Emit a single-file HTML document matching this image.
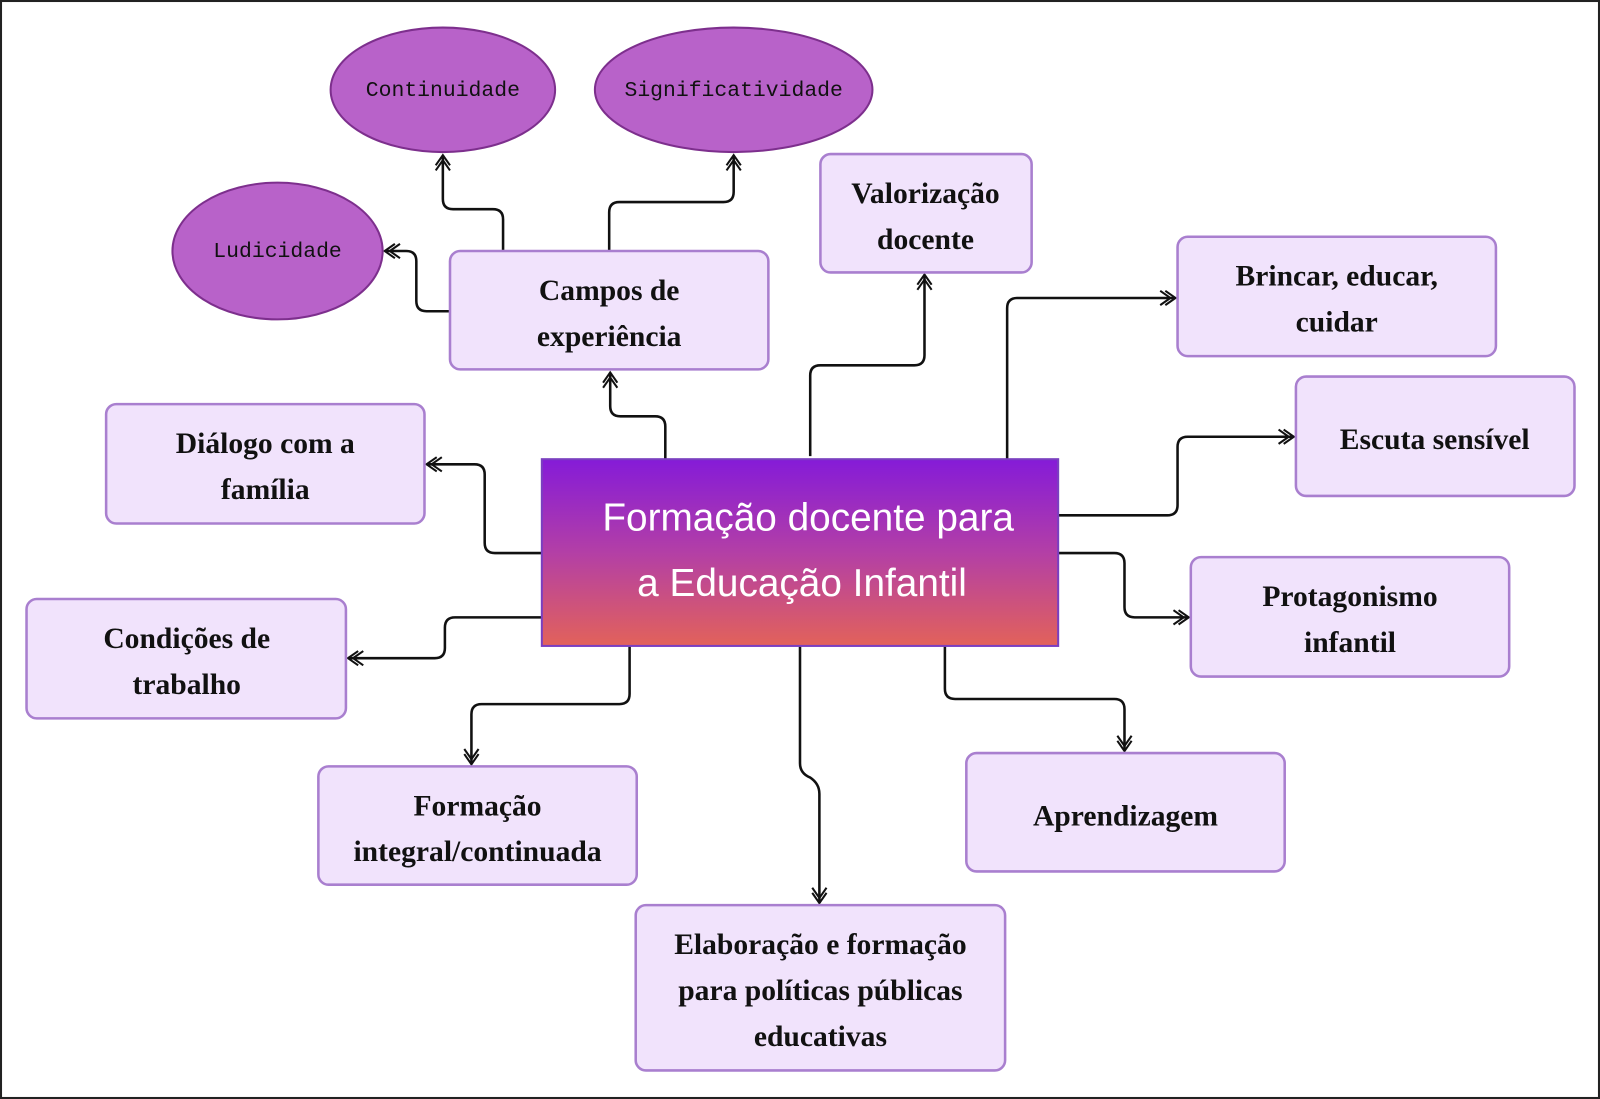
<!DOCTYPE html>
<html><head><meta charset="utf-8"><style>
body{margin:0;background:#fff}
svg{display:block}
.b{fill:#f1e3fc;stroke:#a97fcf;stroke-width:2.5}
.t{font-family:"Liberation Serif",serif;font-weight:bold;font-size:29px;fill:#111;text-anchor:middle}
.e{fill:#b862c9;stroke:#7d2f8d;stroke-width:2}
.m{font-family:"Liberation Mono",monospace;font-size:21px;fill:#111;text-anchor:middle}
.c{fill:none;stroke:#111;stroke-width:2.5;marker-end:url(#a)}
</style></head><body>
<svg width="1600" height="1099" viewBox="0 0 1568 1077" preserveAspectRatio="none">
<defs>
<marker id="a" markerWidth="20" markerHeight="20" refX="16" refY="10" orient="auto" markerUnits="userSpaceOnUse">
<path d="M6 3 L16 10 L6 17 M1 3 L11 10 L1 17" fill="none" stroke="#111" stroke-width="2"/>
</marker>
<linearGradient id="g" x1="0" y1="0" x2="0" y2="1">
<stop offset="0" stop-color="#851bd8"/><stop offset="0.5" stop-color="#b33fa6"/><stop offset="1" stop-color="#e2625a"/>
</linearGradient>
</defs>
<rect x="1" y="1" width="1566" height="1075" fill="none" stroke="#222" stroke-width="2"/>

<path class="c" d="M652 450 V418 Q652 408 642 408 H608 Q598 408 598 398 V365"/>
<path class="c" d="M794 447 V368 Q794 358 804 358 H896 Q906 358 906 348 V269"/>
<path class="c" d="M987 450 V302 Q987 292 997 292 H1152"/>
<path class="c" d="M1037 505 H1144 Q1154 505 1154 495 V438 Q1154 428 1164 428 H1268"/>
<path class="c" d="M1037 542 H1092 Q1102 542 1102 552 V595 Q1102 605 1112 605 H1165"/>
<path class="c" d="M926 633 V675 Q926 685 936 685 H1092 Q1102 685 1102 695 V736"/>
<path class="c" d="M784 633 V748 Q784 758 794 762 Q803 768 803 778 V885"/>
<path class="c" d="M617 633 V680 Q617 690 607 690 H472 Q462 690 462 700 V749"/>
<path class="c" d="M531 605 H446 Q436 605 436 615 V635 Q436 645 426 645 H341"/>
<path class="c" d="M531 542 H485 Q475 542 475 532 V465 Q475 455 465 455 H418"/>
<path class="c" d="M441 305 H418 Q408 305 408 295 V256 Q408 246 398 246 H377"/>
<path class="c" d="M493 255 V215 Q493 205 483 205 H444 Q434 205 434 195 V152"/>
<path class="c" d="M597 246 V208 Q597 198 607 198 H709 Q719 198 719 188 V152"/>

<ellipse class="e" cx="272" cy="246" rx="103" ry="67"/><text class="m" x="272" y="252">Ludicidade</text>
<ellipse class="e" cx="434" cy="88" rx="110" ry="61"/><text class="m" x="434" y="94">Continuidade</text>
<ellipse class="e" cx="719" cy="88" rx="136" ry="61"/><text class="m" x="719" y="94">Significatividade</text>

<rect class="b" x="441" y="246" width="312" height="116" rx="10"/><text class="t" x="597" y="294">Campos de</text><text class="t" x="597" y="339">experiência</text>
<rect class="b" x="804" y="151" width="207" height="116" rx="10"/><text class="t" x="907" y="199">Valorização</text><text class="t" x="907" y="244">docente</text>
<rect class="b" x="1154" y="232" width="312" height="117" rx="10"/><text class="t" x="1310" y="280">Brincar, educar,</text><text class="t" x="1310" y="325">cuidar</text>
<rect class="b" x="1270" y="369" width="273" height="117" rx="10"/><text class="t" x="1406" y="440">Escuta sensível</text>
<rect class="b" x="1167" y="546" width="312" height="117" rx="10"/><text class="t" x="1323" y="594">Protagonismo</text><text class="t" x="1323" y="639">infantil</text>
<rect class="b" x="947" y="738" width="312" height="116" rx="10"/><text class="t" x="1103" y="809">Aprendizagem</text>
<rect class="b" x="623" y="887" width="362" height="162" rx="10"/><text class="t" x="804" y="935">Elaboração e formação</text><text class="t" x="804" y="980">para políticas públicas</text><text class="t" x="804" y="1025">educativas</text>
<rect class="b" x="312" y="751" width="312" height="116" rx="10"/><text class="t" x="468" y="799">Formação</text><text class="t" x="468" y="844">integral/continuada</text>
<rect class="b" x="26" y="587" width="313" height="117" rx="10"/><text class="t" x="183" y="635">Condições de</text><text class="t" x="183" y="680">trabalho</text>
<rect class="b" x="104" y="396" width="312" height="117" rx="10"/><text class="t" x="260" y="444">Diálogo com a</text><text class="t" x="260" y="489">família</text>

<rect x="531" y="450" width="506" height="183" fill="url(#g)" stroke="#7a3fc0" stroke-width="2"/>
<text x="792" y="520" font-family="Liberation Sans,sans-serif" font-size="38" fill="#fff" text-anchor="middle">Formação docente para</text>
<text x="786" y="584" font-family="Liberation Sans,sans-serif" font-size="38" fill="#fff" text-anchor="middle">a Educação Infantil</text>
</svg>
</body></html>
